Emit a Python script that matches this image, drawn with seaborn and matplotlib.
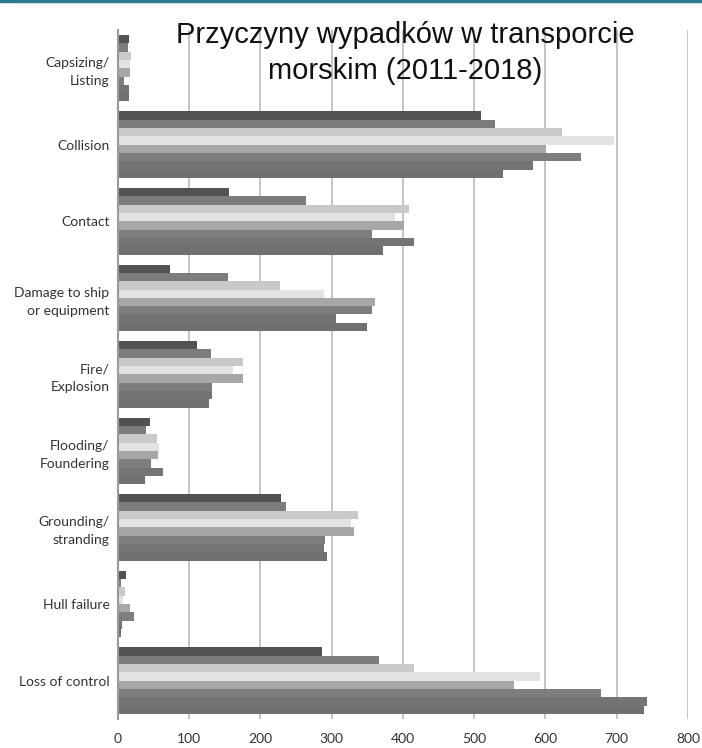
import matplotlib
matplotlib.use("Agg")
import matplotlib.pyplot as plt
import seaborn as sns
import pandas as pd
from matplotlib.lines import Line2D

# Accident causes (y axis categories)
causes = [
    "Capsizing/\nListing",
    "Collision",
    "Contact",
    "Damage to ship\nor equipment",
    "Fire/\nExplosion",
    "Flooding/\nFoundering",
    "Grounding/\nstranding",
    "Hull failure",
    "Loss of control",
]

years = ["2011", "2012", "2013", "2014", "2015", "2016", "2017", "2018"]

# Number of casualties per cause, one list per year
y2011 = [15, 509, 156, 73, 111, 45, 229, 12, 286]
y2012 = [14, 529, 264, 154, 130, 39, 236, 4, 366]
y2013 = [19, 623, 409, 228, 176, 55, 337, 10, 415]
y2014 = [17, 696, 389, 289, 161, 58, 327, 7, 592]
y2015 = [17, 601, 401, 361, 176, 56, 332, 17, 556]
y2016 = [8, 650, 356, 357, 132, 46, 290, 22, 678]
y2017 = [15, 583, 415, 306, 132, 63, 289, 6, 742]
y2018 = [15, 541, 372, 349, 128, 38, 293, 5, 738]

x_ticks = [0, 100, 200, 300, 400, 500, 600, 700, 800]

title = "Przyczyny wypadków w transporcie\nmorskim (2011-2018)"

series = [y2011, y2012, y2013, y2014, y2015, y2016, y2017, y2018]
rows = []
for year, vals in zip(years, series):
    for cause, v in zip(causes, vals):
        rows.append({"cause": cause, "year": year, "count": v})
df = pd.DataFrame(rows)

palette = ["#525252", "#7c7c7c", "#c9c9c9", "#e2e2e2",
           "#a7a7a7", "#7e7e7e", "#747474", "#707070"]

sns.set_style("white")
fig = plt.figure(figsize=(7.02, 7.48), dpi=100)
ax = fig.add_axes([0.168, 0.039, 0.812, 0.921])

sns.barplot(data=df, y="cause", x="count", hue="year", order=causes,
            hue_order=years, palette=palette, orient="h", width=0.87,
            linewidth=0, saturation=1, errorbar=None, legend=False, ax=ax)

ax.set_xlim(0, 800)
ax.set_ylim(len(causes) - 0.5, -0.5)
ax.set_xticks(x_ticks)
ax.set_xticklabels([str(t) for t in x_ticks], fontsize=10, color="#333333",
                   family="Lato")
ax.set_yticks(range(len(causes)))
ax.set_yticklabels(causes, fontsize=10, color="#333333", family="Lato",
                   multialignment="right", linespacing=1.6)
ax.set_xlabel("")
ax.set_ylabel("")

ax.grid(axis="x", color="#c4c4c4", linewidth=1.4)
ax.grid(axis="y", visible=False)
ax.set_axisbelow(True)

for side in ["top", "right", "bottom"]:
    ax.spines[side].set_visible(False)
ax.spines["left"].set_color("#9a9a9a")
ax.spines["left"].set_linewidth(1.5)

ax.tick_params(axis="x", length=5, width=1.2, color="#c4c4c4", pad=5)
ax.tick_params(axis="y", length=0, pad=6)

fig.text(0.577, 0.972, title, ha="center", va="top", fontsize=21,
         family="Liberation Sans", color="#111111", linespacing=1.35)

# teal rule across the top edge
fig.add_artist(Line2D([0, 1], [0.998, 0.998], transform=fig.transFigure,
                      color="#2a7c8e", linewidth=2.5))

fig.savefig("out.png", dpi=100)
